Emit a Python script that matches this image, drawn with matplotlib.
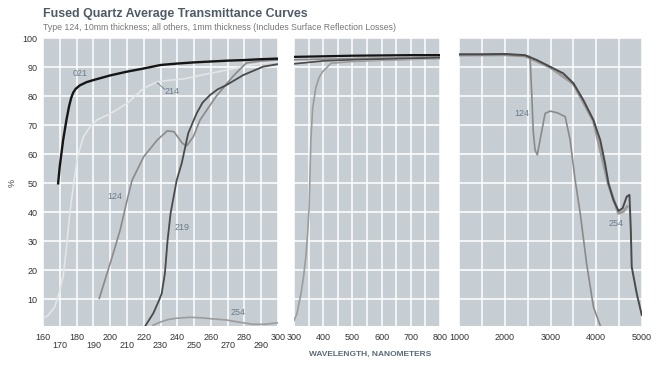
import matplotlib.pyplot as plt
import numpy as np

plt.rcParams['font.family'] = ['Liberation Sans', 'DejaVu Sans']

# ---- data ----
# panel 1: 160-300 nm
wl_021 = [169, 170, 172, 174, 175.5, 176.8, 178, 179.5, 182, 186, 190, 200, 210, 220, 230, 240, 250, 260, 270, 280, 290, 300]
t_021 = [50, 56, 65, 72, 76.5, 79.5, 81.3, 82.6, 83.8, 84.9, 85.6, 87.2, 88.5, 89.6, 90.8, 91.3, 91.7, 92, 92.3, 92.5, 92.8, 93]

wl_214 = [160, 163, 167, 170, 172, 174, 176, 178.5, 180.5, 184, 188, 192, 200, 210, 220, 228, 236, 244, 254, 270, 283, 300]
t_214 = [3.4, 4.5, 7.4, 13, 18, 28, 40, 51, 59, 66, 69.5, 71.8, 74, 77.5, 82.8, 85, 85.6, 86, 87.3, 89.1, 90.8, 92]

wl_124 = [193.5, 200, 206, 210, 213, 220, 228, 234, 238, 243, 245.5, 249.5, 253.5, 263, 273, 281, 290, 300]
t_124 = [10.3, 22.4, 34, 44, 51, 59.2, 64.9, 68.1, 67.8, 63.8, 62.9, 66, 71.8, 79.9, 86.8, 91.5, 92.2, 92.5]

wl_219 = [221, 225.7, 229, 230.7, 232.6, 234.2, 236, 239.6, 242.6, 246.5, 251.5, 255, 259.4, 264, 269.3, 279.2, 291, 300]
t_219 = [0.9, 5.2, 9.5, 12, 19, 30.4, 39.7, 51, 56.9, 67.3, 74.1, 77.8, 80.4, 82.4, 83.9, 87.3, 90.2, 91.1]

wl_254 = [225.5, 230, 235, 240, 247.5, 255, 262, 269, 276, 285, 292, 300]
t_254 = [1.1, 2.2, 3.1, 3.5, 3.8, 3.6, 3.2, 2.9, 2.2, 1.4, 1.4, 1.9]

# panel 2: 300-800 nm
wl2_021 = [300, 400, 500, 600, 700, 800]
t2_021 = [93.6, 93.8, 94, 94.1, 94.2, 94.2]
wl2_214 = [300, 500, 800]
t2_214 = [92.0, 92.5, 93.2]
wl2_124 = [300, 500, 800]
t2_124 = [92.6, 93.0, 93.5]
wl2_219 = [300, 400, 500, 800]
t2_219 = [91.2, 92.2, 92.6, 93.3]
wl2_254 = [300, 310, 324, 333, 341, 347, 352, 355, 358, 364, 375, 386, 398, 427, 500, 600, 800]
t2_254 = [2.7, 5, 12, 18, 25, 33, 42, 54, 65, 76, 83, 86.5, 88.5, 91.4, 92, 92.4, 93]

# panel 3: 1000-5000 nm
wl3_219 = [1000, 1500, 2000, 2440, 2700, 2990, 3280, 3500, 3720, 3940, 4090, 4195, 4270, 4380,
           4490, 4580, 4670, 4730, 4760, 4780, 4890, 5000]
t3_219 = [94.5, 94.5, 94.6, 94.2, 92.5, 90.2, 87.9, 84.5, 78.7, 71.8, 64.9, 56.9, 50, 44.2,
          40.5, 41.4, 45.4, 46, 33.9, 21.2, 12, 4.6]
wl3_254 = [1000, 2000, 2440, 2990, 3500, 3940, 4270, 4490, 4600, 4680]
t3_254 = [94.2, 94.3, 93.9, 90, 84.3, 71.5, 49.5, 39.6, 40.3, 42]
wl3_124 = [1000, 2000, 2550, 2590, 2620, 2660, 2710, 2770, 2880, 2990, 3150, 3320, 3430, 3540,
           3650, 3790, 3940, 4090]
t3_124 = [94.3, 94.4, 93.7, 80, 68, 61.5, 59.8, 64.9, 74.1, 74.9, 74.3, 73, 65, 51,
          39.7, 22.4, 7.4, 0.9]

c021, c214, c124, c219, c254 = '#151515', '#e4e6e8', '#8a8a8a', '#4a4a4a', '#9c9c9c'
lab_col = '#6b7c8c'
bg = '#c6cdd3'

fig = plt.figure(figsize=(6.66, 3.68), dpi=100)
bottom, height = 0.1149, 0.781
ax1 = fig.add_axes([0.0646, bottom, 0.3529, height])
ax2 = fig.add_axes([0.4414, bottom, 0.2192, height])
ax3 = fig.add_axes([0.6897, bottom, 0.2739, height])

for ax in (ax1, ax2, ax3):
    ax.set_facecolor(bg)
    for s in ax.spines.values():
        s.set_visible(False)
    ax.set_ylim(0.9, 100)
    ax.set_yticks(np.arange(10, 101, 10))
    ax.grid(True, which='both', color='white', linewidth=1.1)
    ax.set_axisbelow(True)
    ax.tick_params(which='both', length=0, labelsize=6.5, labelcolor='#333333')

ax1.tick_params(axis='y', pad=4)
ax2.set_yticklabels([])
ax3.set_yticklabels([])

# panel 1
ax1.plot(wl_214, t_214, color=c214, lw=1.2)
ax1.plot(wl_254, t_254, color=c254, lw=1.2)
ax1.plot(wl_124, t_124, color=c124, lw=1.2)
ax1.plot(wl_219, t_219, color=c219, lw=1.3)
ax1.plot(wl_021, t_021, color=c021, lw=1.7)
ax1.set_xlim(160, 300)
ax1.set_xticks(np.arange(160, 301, 20))
ax1.set_xticks(np.arange(170, 300, 20), minor=True)
ax1.set_xticklabels([str(v) for v in range(160, 301, 20)])
ax1.set_xticklabels([str(v) for v in range(170, 300, 20)], minor=True)
ax1.tick_params(axis='x', which='major', pad=5)
ax1.tick_params(axis='x', which='minor', pad=11, labelsize=6.5, labelcolor='#333333')

ax1.text(182, 87.7, '021', color=lab_col, fontsize=6.5, ha='center', va='center')
ax1.text(237, 81.5, '214', color=lab_col, fontsize=6.5, ha='center', va='center')
ax1.plot([228, 232.5], [84.7, 82.4], color=lab_col, lw=0.6)
ax1.text(203, 45.6, '124', color=lab_col, fontsize=6.5, ha='center', va='center')
ax1.text(242.7, 34.6, '219', color=lab_col, fontsize=6.5, ha='center', va='center')
ax1.text(276, 5.6, '254', color=lab_col, fontsize=6.5, ha='center', va='center')

# panel 2
ax2.plot(wl2_254, t2_254, color=c254, lw=1.2)
ax2.plot(wl2_214, t2_214, color=c214, lw=1.2)
ax2.plot(wl2_124, t2_124, color=c124, lw=1.2)
ax2.plot(wl2_219, t2_219, color=c219, lw=1.2)
ax2.plot(wl2_021, t2_021, color=c021, lw=1.6)
ax2.set_xlim(300, 800)
ax2.set_xticks(np.arange(300, 801, 100))
ax2.set_xticks(np.arange(350, 800, 100), minor=True)
ax2.tick_params(axis='x', pad=5)

# panel 3
ax3.plot(wl3_254, t3_254, color=c254, lw=2.0)
ax3.plot(wl3_124, t3_124, color=c124, lw=1.2)
ax3.plot(wl3_219, t3_219, color=c219, lw=1.4)
ax3.set_xlim(1000, 5000)
ax3.set_xticks(np.arange(1000, 5001, 1000))
ax3.set_xticks(np.arange(1500, 5000, 1000), minor=True)
ax3.tick_params(axis='x', pad=5)
ax3.text(2375, 74.2, '124', color=lab_col, fontsize=6.5, ha='center', va='center')
ax3.text(4436, 36.3, '254', color=lab_col, fontsize=6.5, ha='center', va='center')

fig.text(0.0646, 0.962, 'Fused Quartz Average Transmittance Curves', fontsize=8.9,
         fontweight='bold', color='#4e5b67', ha='left', va='center')
fig.text(0.0646, 0.924, 'Type 124, 10mm thickness; all others, 1mm thickness (Includes Surface Reflection Losses)',
         fontsize=6.3, color='#777777', ha='left', va='center')
fig.text(0.018, 0.503, '%', fontsize=6.5, color='#444444', rotation=90, ha='center', va='center')
fig.text(0.556, 0.038, 'WAVELENGTH, NANOMETERS', fontsize=6, fontweight='bold',
         color='#5a6b7a', ha='center', va='center')

fig.savefig('out.png', dpi=100, facecolor='white')
